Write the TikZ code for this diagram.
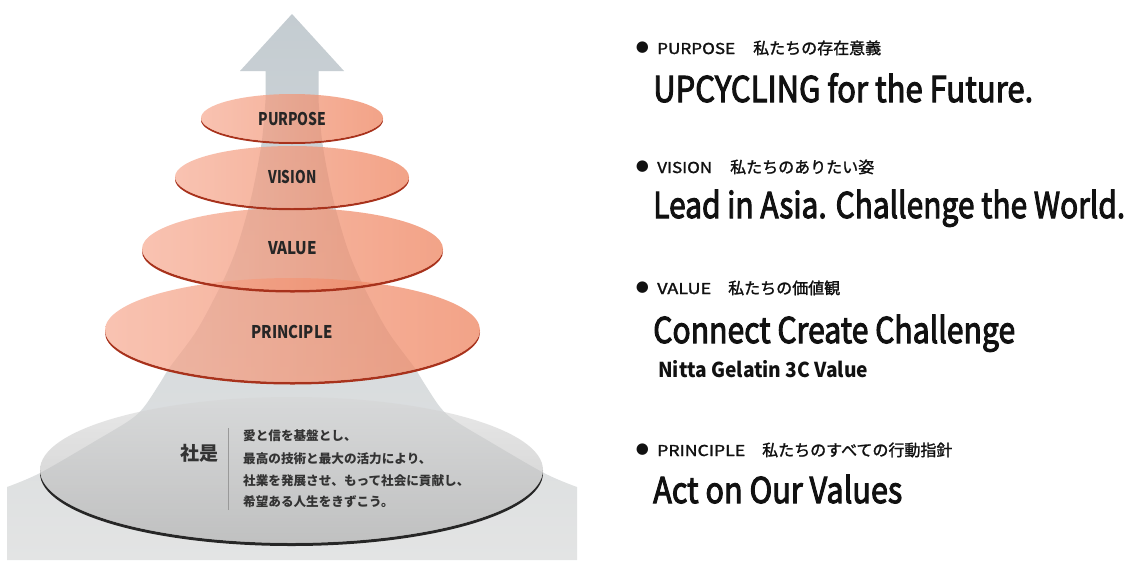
\documentclass[tikz,border=0pt]{standalone}
\usepackage{fontspec}
\usepackage{graphicx}
\setmainfont{Noto Sans CJK JP}
\newfontfamily\midfont[FakeBold=3]{Noto Sans CJK JP}
\newfontfamily\hdrfont[FakeBold=1.5]{Noto Sans CJK JP}
\newfontfamily\symfont{DejaVu Sans}
\newcommand\fitw[2]{\resizebox{#1}{\height}{#2}}
\definecolor{ink}{HTML}{111111}
\definecolor{lblgray}{HTML}{262626}
\definecolor{orL}{RGB}{247,172,148}
\definecolor{orR}{RGB}{238,128,90}
\definecolor{orRim}{HTML}{A8321C}
\definecolor{arrTop}{RGB}{196,204,209}
\definecolor{arrBot}{RGB}{227,228,228}
\definecolor{baseTop}{RGB}{214,214,214}
\definecolor{baseBot}{RGB}{165,165,165}
\definecolor{baseRim}{HTML}{262626}
\definecolor{basetext}{HTML}{333333}
\tikzset{
  orangedisc/.style={left color=orL, right color=orR, fill opacity=0.72},
  discrim/.style={fill=orRim},
  lbl/.style={inner sep=0, text=lblgray, font=\bfseries\fontsize{17.5}{18}\selectfont},
  hdr/.style={anchor=base west, inner sep=0, text=ink, font=\hdrfont\fontsize{15}{16}\selectfont},
  jph/.style={anchor=base west, inner sep=0, text=ink, font=\hdrfont\fontsize{16}{17}\selectfont},
  bul/.style={inner sep=0, text=ink, font=\symfont\fontsize{15}{16}\selectfont},
  big/.style={anchor=base west, inner sep=0, text=ink, font=\midfont\fontsize{35.5}{36}\selectfont},
  sub/.style={anchor=base west, inner sep=0, text=ink, font=\bfseries\fontsize{20.5}{21}\selectfont},
  btxt/.style={anchor=west, inner sep=0, text=basetext, font=\bfseries\fontsize{12.6}{13}\selectfont},
}
% disc with rim: #1 cx, #2 cy, #3 rx, #4 ry, #5 rim thickness, #6 rim colour, #7 fill style
\newcommand\disc[7]{%
  \begin{scope}
    \clip (#1-#3-3,#2) rectangle (#1+#3+3,#2+#4+#5+2);
    \fill[#6, even odd rule] (#1,#2+#5) ellipse [x radius=#3pt, y radius=#4pt]
                             (#1,#2) ellipse [x radius=#3pt, y radius=#4pt];
  \end{scope}
  \shade[#7] (#1,#2) ellipse [x radius=#3pt, y radius=#4pt];
}
\begin{document}
\begin{tikzpicture}[x=1pt,y=-1pt]
\useasboundingbox (0,0) rectangle (1131,560);
\fill[white] (0,0) rectangle (1131,560);

% gray arrow with flared base
\shade[top color=arrTop, bottom color=arrBot]
  (292,14) -- (344,71) -- (318.5,71) -- (318.5,100)
  -- plot[smooth, tension=0.55] coordinates {(318.5,100) (322,140) (329,180) (336,210) (348,250) (362,283) (387,330) (414,367) (424,383) (440,407) (454,420) (487,440) (544,473) (577,487)}
  -- (577,560) -- (7,560) -- (7,487)
  -- plot[smooth, tension=0.55] coordinates {(7,487) (40,473) (97,440) (130,420) (144,407) (160,383) (170,367) (197,330) (222,283) (236,250) (248,210) (255,180) (262,140) (265.5,100)}
  -- (265.5,71) -- (240,71) -- cycle;

% base disc (company creed)
\disc{291.5}{470}{251.5}{73}{3}{baseRim}{top color=baseTop, bottom color=baseBot, fill opacity=0.55}

% orange discs
\disc{292.5}{330}{187.5}{52}{2.5}{discrim}{orangedisc}
\disc{292.5}{249}{150.5}{41}{2.5}{discrim}{orangedisc}
\disc{292}{177}{117}{31}{2.2}{discrim}{orangedisc}
\disc{292}{118}{91}{24}{2}{discrim}{orangedisc}

% disc labels
\node[lbl] (lpurpose) at (292.5,118.5) {\fitw{68pt}{PURPOSE}};
\node[lbl] (lvision) at (292.5,177.3) {\fitw{48pt}{VISION}};
\node[lbl] (lvalue) at (292.5,248) {\fitw{49pt}{VALUE}};
\node[lbl] (lprinciple) at (292,331.5) {\fitw{81pt}{PRINCIPLE}};

% creed
\node[inner sep=0, text=basetext, font=\bfseries\fontsize{19}{20}\selectfont] (shaze) at (199.5,453) {社是};
\coordinate (lineTop) at (228,428);
\coordinate (lineBot) at (228,510);
\draw[line width=1pt, draw=gray!80] (lineTop) -- (lineBot);
\node[btxt] (c1) at (243,436) {愛と信を基盤とし、};
\node[btxt] (c2) at (243,459) {最高の技術と最大の活力により、};
\node[btxt] (c3) at (243,481) {社業を発展させ、もって社会に貢献し、};
\node[btxt] (c4) at (243,502) {希望ある人生をきずこう。};

% right column
\node[bul] (b1) at (642.5,48) {●};
\node[hdr] (h1) at (657,54) {\fitw{78pt}{PURPOSE}};
\node[jph] (j1) at (753,54) {私たちの存在意義};
\node[big] (t1) at (653,102) {\fitw{380pt}{UPCYCLING for the Future.}};

\node[bul] (b2) at (642.5,167) {●};
\node[hdr] (h2) at (657,173) {\fitw{55pt}{VISION}};
\node[jph] (j2) at (730,173) {私たちのありたい姿};
\node[big] (t2) at (653,218) {\fitw{472pt}{Lead in Asia. Challenge the World.}};

\node[bul] (b3) at (642.5,288) {●};
\node[hdr] (h3) at (657,294) {\fitw{54pt}{VALUE}};
\node[jph] (j3) at (728,294) {私たちの価値観};
\node[big] (t3) at (653,343) {\fitw{362pt}{Connect Create Challenge}};
\node[sub] (t3b) at (658,377) {\fitw{210pt}{Nitta Gelatin 3C Value}};

\node[bul] (b4) at (642.5,450) {●};
\node[hdr] (h4) at (657,456) {\fitw{88pt}{PRINCIPLE}};
\node[jph] (j4) at (762,456) {私たちのすべての行動指針};
\node[big] (t4) at (653,503) {\fitw{249pt}{Act on Our Values}};
\end{tikzpicture}
\end{document}
